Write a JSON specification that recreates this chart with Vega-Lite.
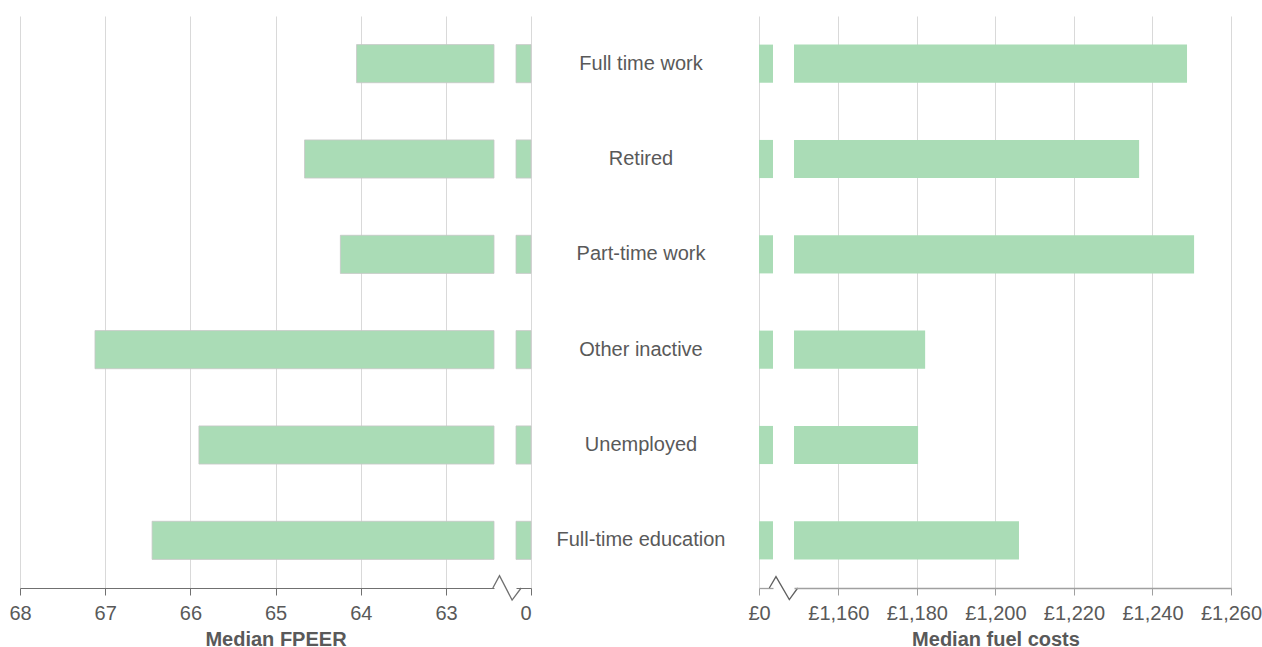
{
  "$schema": "https://vega.github.io/schema/vega-lite/v6.json",
  "background": "white",
  "padding": {"left": 8, "top": 16, "right": 0, "bottom": 0},
  "spacing": 0,
  "bounds": "flush",
  "config": {
    "view": {"stroke": null},
    "font": "Liberation Sans",
    "axis": {
      "labelFont": "Liberation Sans",
      "labelFontSize": 20,
      "labelColor": "#595959",
      "labelFlush": false,
      "labelPadding": 8,
      "titleFont": "Liberation Sans",
      "titleFontSize": 20,
      "titleFontWeight": "bold",
      "titleColor": "#595959",
      "gridColor": "#d9d9d9",
      "gridWidth": 1,
      "tickSize": 7,
      "domainColor": "#707070",
      "tickColor": "#707070"
    }
  },
  "data": {
    "values": [
      {"status": "Full time work", "fpeer": 64.05, "cost": 1248.8},
      {"status": "Retired", "fpeer": 64.66, "cost": 1236.6},
      {"status": "Part-time work", "fpeer": 64.24, "cost": 1250.6},
      {"status": "Other inactive", "fpeer": 67.12, "cost": 1182.1},
      {"status": "Unemployed", "fpeer": 65.9, "cost": 1180.3},
      {"status": "Full-time education", "fpeer": 66.45, "cost": 1206.0}
    ]
  },
  "hconcat": [
    {
      "width": 474,
      "height": 572,
      "mark": {"type": "bar", "color": "#aadcb6", "stroke": "#c6c6c6", "strokeWidth": 0.8},
      "encoding": {
        "y": {"field": "status", "type": "nominal", "sort": null, "axis": null, "scale": {"paddingInner": 0.6, "paddingOuter": 0.3}},
        "x": {
          "field": "fpeer", "type": "quantitative",
          "scale": {"domain": [62.437, 68], "reverse": true, "nice": false, "zero": false},
          "axis": {"values": [63, 64, 65, 66, 67, 68], "grid": true, "title": "Median FPEER", "titleX": 255.5, "titleY": 57, "titleBaseline": "alphabetic", "titleAlign": "center"}
        },
        "x2": {"datum": 62.437}
      }
    },
    {
      "width": 22,
      "height": 572,
      "data": {"values": [{"element": "axis break"}]},
      "mark": {"type": "point", "shape": "M-1,0L-0.53,-0.87L0.36,0.85L1,0", "size": 801, "filled": false, "color": "#707070", "strokeWidth": 1.3, "opacity": 1, "y": "height", "xOffset": 2},
      "encoding": {}
    },
    {
      "width": 15,
      "height": 572,
      "mark": {"type": "bar", "color": "#aadcb6", "stroke": "#c6c6c6", "strokeWidth": 0.8},
      "encoding": {
        "y": {"field": "status", "type": "nominal", "sort": null, "axis": null, "scale": {"paddingInner": 0.6, "paddingOuter": 0.3}},
        "x": {
          "field": "fpeer", "type": "quantitative",
          "scale": {"domain": [0, 1], "reverse": true, "clamp": true, "nice": false, "zero": false},
          "axis": {"values": [0], "grid": true, "title": null, "labelAlign": "right"}
        },
        "x2": {"datum": 0}
      }
    },
    {
      "width": 228,
      "height": 572,
      "mark": {"type": "text", "fontSize": 20, "color": "#595959", "dx": -4, "font": "Liberation Sans"},
      "encoding": {
        "y": {"field": "status", "type": "nominal", "sort": null, "axis": null, "scale": {"paddingInner": 0.6, "paddingOuter": 0.3}},
        "text": {"field": "status"}
      }
    },
    {
      "width": 14,
      "height": 572,
      "mark": {"type": "bar", "color": "#aadcb6"},
      "encoding": {
        "y": {"field": "status", "type": "nominal", "sort": null, "axis": null, "scale": {"paddingInner": 0.6, "paddingOuter": 0.3}},
        "x": {
          "field": "cost", "type": "quantitative",
          "scale": {"domain": [0, 1], "clamp": true, "nice": false, "zero": false},
          "axis": {"values": [0], "grid": true, "title": null, "labelExpr": "'£' + format(datum.value, ',')", "domainColor": "#a0a0a0", "tickColor": "#a0a0a0", "domainWidth": 1.3}
        },
        "x2": {"datum": 0}
      }
    },
    {
      "width": 21,
      "height": 572,
      "data": {"values": [{"element": "axis break"}]},
      "mark": {"type": "point", "shape": "M-1,0L-0.53,-0.8L0.41,0.82L1,0", "size": 806, "filled": false, "color": "#606060", "strokeWidth": 1.3, "opacity": 1, "y": "height", "xOffset": 0},
      "encoding": {}
    },
    {
      "width": 437,
      "height": 572,
      "mark": {"type": "bar", "color": "#aadcb6"},
      "encoding": {
        "y": {"field": "status", "type": "nominal", "sort": null, "axis": null, "scale": {"paddingInner": 0.6, "paddingOuter": 0.3}},
        "x": {
          "field": "cost", "type": "quantitative",
          "scale": {"domain": [1148.7, 1260], "nice": false, "zero": false},
          "axis": {"values": [1160, 1180, 1200, 1220, 1240, 1260], "grid": true, "title": "Median fuel costs", "titleX": 201.5, "titleY": 57, "titleBaseline": "alphabetic", "titleAlign": "center", "labelExpr": "'£' + format(datum.value, ',')", "domainColor": "#a0a0a0", "tickColor": "#a0a0a0", "domainWidth": 1.3}
        },
        "x2": {"datum": 1148.7}
      }
    }
  ]
}
